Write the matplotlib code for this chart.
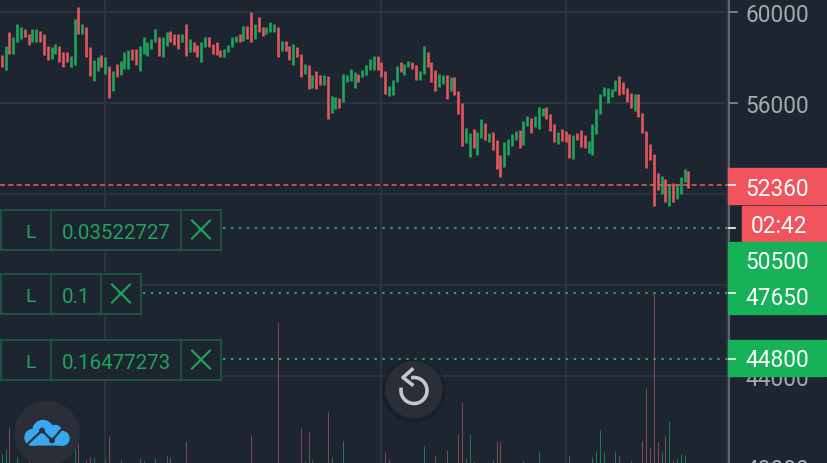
import numpy as np
import matplotlib
matplotlib.use('Agg')
import matplotlib.pyplot as plt
from matplotlib.patches import Rectangle, Circle, Polygon, FancyBboxPatch
from matplotlib.transforms import blended_transform_factory

plt.rcParams['font.family'] = ['Roboto', 'DejaVu Sans']

# candle ranges
highs = [58110,58500,59120,58900,59470,59300,59250,59030,59210,59210,
         59160,58990,58500,58460,58590,58500,58200,58240,58060,59650,
         60180,59470,59300,58460,57890,57980,58110,57980,57620,57400,
         57710,57840,58200,58330,58370,58370,58500,58860,58680,58810,
         59210,58900,58860,59120,59160,58990,58990,58990,59470,58770,
         58680,58550,58680,58860,58900,58590,58640,58330,58370,58550,
         58860,58940,59030,59380,59380,60000,59430,59740,59340,59340,
         59520,59430,59340,58720,58720,58500,58590,58420,58150,57710,
         57670,57230,57400,57230,57230,57180,56300,56260,56220,57270,
         57230,57490,57360,57270,57450,57670,57930,58060,58060,57760,
         57400,56740,57010,57620,57760,57710,57840,57800,57670,57400,
         58500,58200,57760,57450,57270,57230,57230,57140,57140,56520,
         55990,54900,54680,54850,54720,55290,55120,54680,54720,54370,
         53710,54280,54410,54630,54760,54810,55200,55420,55340,55420,
         55820,55780,55820,55510,55070,54720,54850,54760,54630,54590,
         54680,54810,54590,54320,55070,55730,56390,56700,56660,56610,
         57010,57180,56920,56660,56440,56390,56390,55560,54760,54190,
         53750,52920,52790,52650,52430,52480,52390,52740,53090,53000]
lows = [57540,57450,58150,58150,58640,58770,58900,58550,58640,58680,
        58680,58110,57890,57930,58150,57760,57580,57800,57540,57670,
        59030,59030,58020,57180,56960,57400,57580,57270,56220,56520,
        57140,57230,57490,57490,57890,57670,57400,58150,58060,58370,
        58680,58060,57980,58500,58640,58550,58370,58640,58060,58240,
        58240,57980,57760,58460,58420,58150,58110,58020,57980,58240,
        58420,58640,58640,58720,58810,58680,58810,59080,58940,59030,
        59120,59120,58020,58280,58280,57890,57670,58020,57140,57270,
        56610,56660,56610,56790,56790,55290,55560,55730,55780,56040,
        56920,56960,56660,56880,57140,57230,57450,57450,57450,57100,
        56390,56300,56350,56920,57360,57230,57540,57490,57010,57010,
        57270,57580,56880,56520,56700,56830,56170,56520,56350,55510,
        54100,54240,53620,54020,53710,54460,54370,54280,53930,53090,
        52740,53180,53710,54100,54370,54020,54150,54980,54680,54940,
        54850,55420,55290,54760,54280,54190,54320,54280,53580,53530,
        54370,54060,54020,53800,53710,54630,55510,56300,56000,56260,
        56520,56350,56390,56040,55780,55640,55380,54680,53140,53490,
        51460,52170,51990,51640,51460,51640,51770,51990,52520,52260]
directions = ("RGRGGGRRGG" "RRRGGRRRGG" "RGRRGGRGRG" "RGGGRRGGGG" "GRGGRRRGRG"
              "RRGGRRRRGG" "GGRGRRGRRG" "GGRGRRGRRG" "RGRRGRGGRG" "GGGRGGGGRR"
              "RGGGRGGRRG" "GRRRGGRGRR" "RGGRGGRGRR" "RGGGGRGGRG" "GGRRRGRRRG"
              "RRRGGGGGGG" "GRRRRGRRRR" "RRGRGRGGGR")

vol_index = [0,1,2,4,7,19,20,22,23,24,27,28,31,36,37,40,43,44,48,65,72,78,79,80,81,85,86,89,100,101,
             110,113,116,119,120,121,122,123,128,129,130,136,140,148,154,155,156,157,160,161,164,
             167,168,169,170,171,172,173,174,175,176,177,178]
vol_size = [9,14,36,6,2,17,20,3,6,5,4,27,3,5,2,5,7,6,22,28,141,35,2,31,3,51,6,22,11,4,
            17,8,13,29,61,5,29,2,3,22,21,2,11,7,6,12,33,11,12,7,2,
            22,75,15,170,21,12,27,42,3,5,9,8]
vol_dir = ("GGRGRGRRRGGRGGGGGRRRRRGRGRGGRR"
           "GRRRRGGRRRRGGRGGGGGRR"
           "RRRRRGRGRGGG")

price_ticks = [60000, 56000, 52000, 48000, 44000, 40000]
time_ticks = [27, 99, 147, 189]
axis_labels = ['60000', '56000', '', '', '44000', '40000']

last_price = 52360
countdown = '02:42'
order_levels = [50470, 47610, 44710]
order_labels = ['50500', '47650', '44800']
order_sizes = ['0.03522727', '0.1', '0.16477273']

BG = '#1c2530'
GRID = '#2a343e'
UP = '#1fa65c'
DOWN = '#e3585f'
TAG_UP = '#17b157'
TAG_DOWN = '#f0545c'
ORDER_EDGE = '#1f5343'
BUTTON = '#2a2e39'

fig = plt.figure(figsize=(8.28, 4.64), dpi=100, facecolor=BG)
ax = fig.add_axes([0, 0, 1, 1], facecolor=BG)
x = np.arange(len(highs))
ax.set_xticks(time_ticks)
ax.set_yticks(price_ticks)
ax.set_xlim(-0.443, 215.4)
ax.set_ylim(40155, 60550)
ax.grid(True, color=GRID, linewidth=1.5)
ax.set_axisbelow(True)
ax.tick_params(length=0, labelleft=False, labelbottom=False)
for s in ax.spines.values():
    s.set_visible(False)

colors = [UP if d == 'G' else DOWN for d in directions]
ax.vlines(x, lows, highs, colors=colors, linewidth=1.9, zorder=3)

# volume at the bottom, own scale
vol = fig.add_axes([0, 0, 1, 1], sharex=ax)
vol.patch.set_visible(False)
vol.axis('off')
vol.set_ylim(0, 464)
vol_colors = ['#1f7a58' if d == 'G' else '#7d4c57' for d in vol_dir]
vol.vlines(vol_index, 0, vol_size, colors=vol_colors, linewidth=0.75)

# overlay in pixels for the order rows, tags and buttons
ui = fig.add_axes([0, 0, 1, 1])
ui.patch.set_visible(False)
ui.axis('off')
ui.set_xlim(0, 828)
ui.set_ylim(464, 0)
price_y = blended_transform_factory(ui.transData, ax.transData)

ui.add_patch(Rectangle((730, 0), 98, 464, color=BG, zorder=1))
ui.plot([729, 729], [0, 464], color='#5f656b', linewidth=1.5, zorder=2)

for p, label in zip(price_ticks, axis_labels):
    if label:
        ui.plot([730, 737], [p, p], color='#8a8e93', linewidth=1.2, transform=price_y, zorder=2)
        ui.text(777, p, label, transform=price_y, color='#a6a9ae', fontsize=16.3, ha='center',
                va='center_baseline', zorder=2)

# last price
ui.plot([0, 728], [last_price, last_price], transform=price_y, color=DOWN, linewidth=1.2,
        dashes=(3, 2), zorder=3)
ui.add_patch(Rectangle((728, 168.5), 98, 36, color=TAG_DOWN, zorder=4))
ui.add_patch(Rectangle((742, 206.5), 84, 36, color=TAG_DOWN, zorder=4))
ui.plot([729, 735], [last_price, last_price], transform=price_y, color='white', linewidth=1.2, zorder=6)
ui.text(777, 187, str(last_price), color='white', fontsize=16.3, ha='center', va='center_baseline', zorder=6)
ui.text(779, 224.5, countdown, color='white', fontsize=16.3, ha='center', va='center_baseline', zorder=6)

# limit orders
ui.add_patch(Rectangle((728, 242.5), 98, 72, color=TAG_UP, zorder=4))
ui.add_patch(Rectangle((728, 340.5), 98, 36, color=TAG_UP, zorder=4))
tag_y = [260, 296, 358.5]
row_top = [210.5, 274.5, 340.5]
row_mid = [51, 51, 51]
row_div = [181, 101, 181]
row_end = [221, 141, 221]
for level, label, size, ty, top, mid, div, end in zip(order_levels, order_labels, order_sizes, tag_y,
                                                      row_top, row_mid, row_div, row_end):
    ui.plot([end + 2, 728], [level, level], transform=price_y, color='#2aa874', linewidth=1.4,
            dashes=(1.2, 2.9), zorder=3)
    ui.plot([729, 735], [level, level], transform=price_y, color='white', linewidth=1.2, zorder=6)
    ui.text(777, ty, label, color='white', fontsize=16.3, ha='center', va='center_baseline', zorder=6)
    ui.add_patch(Rectangle((1, top), end - 1, 40, facecolor=BG, edgecolor=ORDER_EDGE, linewidth=1.4, zorder=4))
    ui.plot([mid, mid], [top, top + 40], color=ORDER_EDGE, linewidth=1.4, zorder=5)
    ui.plot([div, div], [top, top + 40], color=ORDER_EDGE, linewidth=1.4, zorder=5)
    ui.text(31, top + 21, 'L', color=UP, fontsize=14, ha='center', va='center_baseline', zorder=6)
    ui.text(62, top + 21, size, color=UP, fontsize=14.8, ha='left', va='center_baseline', zorder=6)
    cx = (div + end) / 2
    cy = top + 20
    ui.plot([cx - 9, cx + 9], [cy - 9, cy + 9], color=UP, linewidth=1.5, zorder=6)
    ui.plot([cx - 9, cx + 9], [cy + 9, cy - 9], color=UP, linewidth=1.5, zorder=6)

# replay button
ui.add_patch(Circle((414, 392), 31, color='#161d26', alpha=0.55, zorder=7))
ui.add_patch(Circle((414, 390.5), 28, color=BUTTON, zorder=8))
t = np.radians(np.linspace(-95, 185, 60))
ui.plot(414 + 13 * np.cos(t), 391.5 + 13 * np.sin(t), color='#c3c6cd', linewidth=2.6, zorder=9)
ui.plot([412, 403, 412], [370.5, 378.5, 385.5], color='#c3c6cd', linewidth=2.6, zorder=9)

# logo
ui.add_patch(Circle((47, 434.5), 32, color=BUTTON, zorder=8))
blue = '#39a8f2'
for c, r in [((33, 438.5), 8), ((43, 431.5), 10), ((55, 433.5), 7), ((62, 439.5), 7)]:
    ui.add_patch(Circle(c, r, color=blue, zorder=9))
ui.add_patch(FancyBboxPatch((29, 436.5), 36, 9.5, boxstyle='round,pad=0,rounding_size=2', color=blue, zorder=9))
ui.add_patch(Polygon([(25, 448.5), (70, 448.5), (70, 446.5), (25, 446.5)], color=BUTTON, zorder=9))
ui.plot([27, 42, 52, 63], [445.5, 431.5, 441.5, 428.5], color=BUTTON, linewidth=1.6, zorder=10)
ui.add_patch(Circle((42, 431.5), 2.2, color=BUTTON, zorder=10))
ui.add_patch(Circle((52, 441.5), 2.2, color=BUTTON, zorder=10))

fig.savefig('out.png', dpi=100, facecolor=BG)
